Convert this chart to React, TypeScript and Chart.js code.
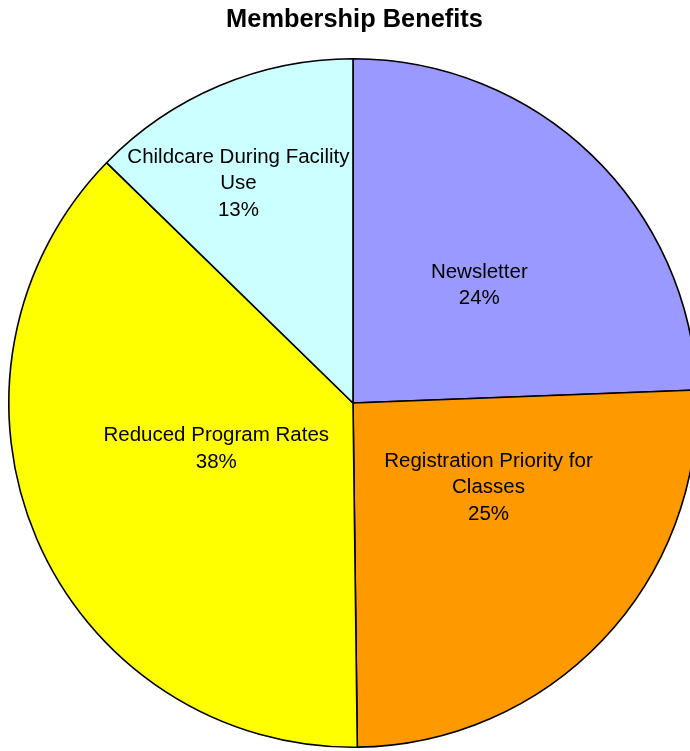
import { useEffect, useRef } from 'react';
import { Chart, ArcElement, PieController } from 'chart.js';

Chart.register(ArcElement, PieController);

const chartTitle = 'Membership Benefits';
const categories = [
  'Newsletter',
  'Registration Priority for Classes',
  'Reduced Program Rates',
  'Childcare During Facility Use',
];
const shares = [24.4, 25.4, 37.5, 12.7];
const sliceColors = ['#9999FF', '#FF9900', '#FFFF00', '#CCFFFF'];
// label placement relative to each slice: angular offset (deg) from mid-angle, radial fraction
const labelAngleOffset = [2.8, -12.0, 5.1, -4.6];
const labelRadius = [0.504, 0.462, 0.418, 0.722];

const FONT = '"Liberation Sans", Arial, sans-serif';

function wrap(ctx: CanvasRenderingContext2D, text: string, maxW: number): string[] {
  const words = text.split(' ');
  const lines: string[] = [];
  let cur = '';
  for (const w of words) {
    const t = cur ? cur + ' ' + w : w;
    if (cur && ctx.measureText(t).width > maxW) {
      lines.push(cur);
      cur = w;
    } else cur = t;
  }
  if (cur) lines.push(cur);
  return lines;
}

const labelPlugin = {
  id: 'pieLabels',
  afterDatasetsDraw(chart: any) {
    const ctx: CanvasRenderingContext2D = chart.ctx;
    const meta = chart.getDatasetMeta(0);
    const total = shares.reduce((a, b) => a + b, 0);
    ctx.save();
    ctx.font = `20.5px ${FONT}`;
    ctx.fillStyle = '#000';
    ctx.textAlign = 'center';
    ctx.textBaseline = 'alphabetic';
    meta.data.forEach((arc: any, i: number) => {
      const { x, y, startAngle, endAngle, outerRadius } = arc.getProps(
        ['x', 'y', 'startAngle', 'endAngle', 'outerRadius'],
        true
      );
      const mid = (startAngle + endAngle) / 2 + (labelAngleOffset[i] * Math.PI) / 180;
      const r = outerRadius * labelRadius[i];
      const ax = x + Math.cos(mid) * r;
      const ay = y + Math.sin(mid) * r;
      const lines = wrap(ctx, categories[i], 240);
      lines.push(Math.round((shares[i] / total) * 100) + '%');
      const lh = 26.5;
      const n = lines.length;
      lines.forEach((ln, j) => {
        ctx.fillText(ln, ax, ay + 7 + (j - (n - 1) / 2) * lh);
      });
    });
    ctx.restore();
  },
  afterDraw(chart: any) {
    const ctx: CanvasRenderingContext2D = chart.ctx;
    ctx.save();
    ctx.font = `bold 25.4px ${FONT}`;
    ctx.fillStyle = '#000';
    ctx.textAlign = 'center';
    ctx.textBaseline = 'alphabetic';
    ctx.fillText(chartTitle, 354.5, 27);
    ctx.restore();
  },
};

export default function App() {
  const ref = useRef<HTMLCanvasElement | null>(null);
  useEffect(() => {
    if (!ref.current) return;
    const chart = new Chart(ref.current, {
      type: 'pie',
      data: {
        labels: categories,
        datasets: [
          {
            data: shares,
            backgroundColor: sliceColors,
            borderColor: '#000000',
            borderWidth: 1.6,
          },
        ],
      },
      options: {
        responsive: false,
        animation: false,
        layout: { padding: { left: 8, top: 58, right: 12, bottom: 3 } },
        plugins: { legend: { display: false }, tooltip: { enabled: false } },
      },
      plugins: [labelPlugin],
    });
    return () => chart.destroy();
  }, []);
  return (
    <div
      style={{
        position: 'fixed',
        left: 0,
        top: 0,
        width: 690,
        height: 751,
        overflow: 'hidden',
        background: '#fff',
      }}
    >
      <canvas ref={ref} width={710} height={751} style={{ width: 710, height: 751, display: 'block' }} />
    </div>
  );
}
